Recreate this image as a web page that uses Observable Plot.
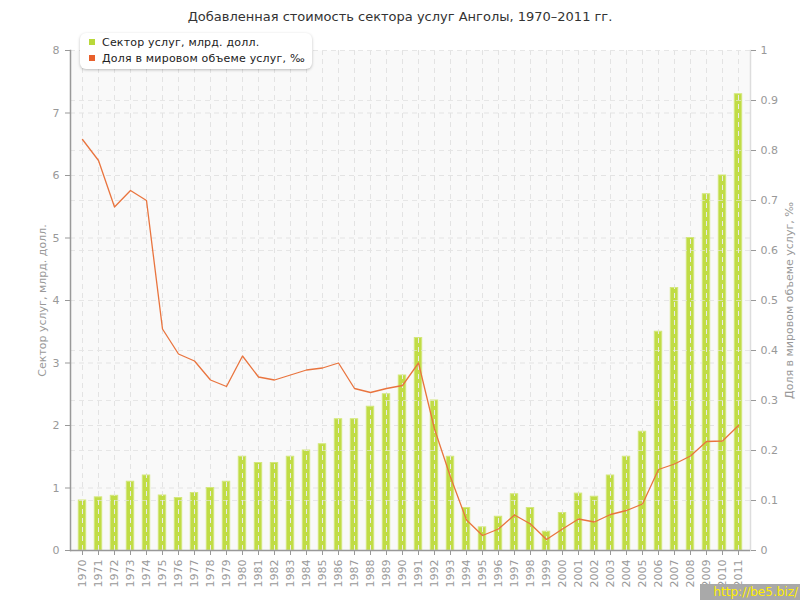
<!DOCTYPE html>
<html><head><meta charset="utf-8">
<script src="https://cdn.jsdelivr.net/npm/d3@7"></script>
<script src="https://cdn.jsdelivr.net/npm/@observablehq/plot@0.6"></script>
<style>
body{margin:0;background:#fff;font-family:"DejaVu Sans",Verdana,sans-serif;}
#wrap{position:relative;width:800px;height:600px;overflow:hidden;}
#title{position:absolute;left:0;top:9px;width:800px;text-align:center;font-size:13px;color:#333;}
#legend{position:absolute;left:80px;top:33px;width:232px;height:36px;background:#fff;border-radius:6px;box-shadow:0 1px 3px rgba(0,0,0,0.25);font-size:11px;color:#222;letter-spacing:0.2px;}
.li{position:absolute;left:9px;white-space:nowrap;}
.sw{display:inline-block;width:6px;height:6px;margin-right:7px;vertical-align:1px;}
#wm{position:absolute;left:700px;top:584px;width:100px;height:16px;background:#a9a9a9;color:#ffee00;font-size:12px;line-height:16px;text-align:right;padding-right:2px;box-sizing:border-box;}
</style></head>
<body><div id="wrap">
<div id="chart"></div>
<div id="title">Добавленная стоимость сектора услуг Анголы, 1970–2011 гг.</div>
<div id="legend">
 <div class="li" style="top:3px"><span class="sw" style="background:#b9d83a"></span>Сектор услуг, млрд. долл.</div>
 <div class="li" style="top:19px"><span class="sw" style="background:#e8602c"></span>Доля в мировом объеме услуг, ‰</div>
</div>
<div id="wm">http://be5.biz/</div>
</div>
<script>
const years = [1970,1971,1972,1973,1974,1975,1976,1977,1978,1979,1980,1981,1982,1983,1984,1985,1986,1987,1988,1989,1990,1991,1992,1993,1994,1995,1996,1997,1998,1999,2000,2001,2002,2003,2004,2005,2006,2007,2008,2009,2010,2011];
const services = [0.8,0.85,0.875,1.1,1.2,0.88,0.84,0.92,1.0,1.1,1.5,1.4,1.4,1.5,1.6,1.7,2.1,2.1,2.3,2.5,2.8,3.4,2.4,1.5,0.68,0.37,0.54,0.9,0.68,0.30,0.60,0.91,0.86,1.2,1.5,1.9,3.5,4.2,5.0,5.7,6.0,7.3];
const share = [0.822,0.78,0.687,0.72,0.70,0.443,0.393,0.379,0.341,0.328,0.389,0.347,0.341,0.351,0.361,0.365,0.375,0.324,0.316,0.324,0.33,0.375,0.243,0.147,0.061,0.030,0.043,0.071,0.053,0.022,0.043,0.063,0.057,0.072,0.080,0.093,0.162,0.173,0.189,0.218,0.219,0.25];
const leftTicks = [0,1,2,3,4,5,6,7,8];
const rightTicks = [0,0.1,0.2,0.3,0.4,0.5,0.6,0.7,0.8,0.9,1];
const ratio = 8; // right axis max 1 maps to left axis max 8

const data = years.map((y,i)=>({year:y, services:services[i], share:share[i]}));
const grid = {stroke:"#e3e3e3", strokeDasharray:"5,4", strokeWidth:1};

const chart = Plot.plot({
  width:800, height:600,
  marginLeft:70, marginRight:50, marginTop:50, marginBottom:50,
  style:{fontFamily:"DejaVu Sans, Verdana, sans-serif", fontSize:"11px", background:"transparent", color:"#999"},
  x:{type:"band", domain:years, padding:0},
  y:{domain:[0,8]},
  marks:[
    Plot.frame({fill:"#f9f9f9", stroke:null}),
    Plot.ruleY(leftTicks, grid),
    Plot.ruleY(rightTicks.map(v=>v*ratio), grid),
    Plot.ruleX(years, {...grid}),
    Plot.barY(data, {x:"year", y:"services", fill:"#c0dc45", stroke:"#d3e77c", strokeWidth:1, insetLeft:4.3, insetRight:4.3}),
    Plot.ruleX(years, {stroke:"#eaeaea", strokeDasharray:"5,4", strokeWidth:1, y1:0, y2:d=>services[years.indexOf(d)]}),
    Plot.ruleY(rightTicks.map(v=>v*ratio), {stroke:"#e8e8e8", strokeOpacity:0.6, strokeDasharray:"5,4"}),
    Plot.line(data, {x:"year", y:d=>d.share*ratio, stroke:"#e9743e", strokeWidth:1.3}),
    Plot.frame({anchor:"left", stroke:"#999", strokeWidth:1.5}),
    Plot.frame({anchor:"right", stroke:"#ddd", strokeWidth:1.5}),
    Plot.ruleY([0], {stroke:"#999", strokeWidth:1.5}),
    Plot.axisX({tickRotate:-90, tickSize:5, tickPadding:4, stroke:"#999", fill:"#999", label:null, tickFormat:d=>String(d), style:"letter-spacing:1.5px"}),
    Plot.axisY({anchor:"left", ticks:leftTicks, tickSize:5, tickPadding:6, stroke:"#999", fill:"#999",
      label:"Сектор услуг, млрд. долл.", labelArrow:false, labelAnchor:"center", labelOffset:32}),
    Plot.axisY({anchor:"right", ticks:rightTicks.map(v=>v*ratio), tickSize:5, tickPadding:5, stroke:"#999", fill:"#999",
      tickFormat:d=>String(+(d/ratio).toFixed(1)),
      label:"Доля в мировом объеме услуг, ‰", labelArrow:false, labelAnchor:"center", labelOffset:42})
  ]
});
document.getElementById("chart").appendChild(chart);
</script>
</body></html>
